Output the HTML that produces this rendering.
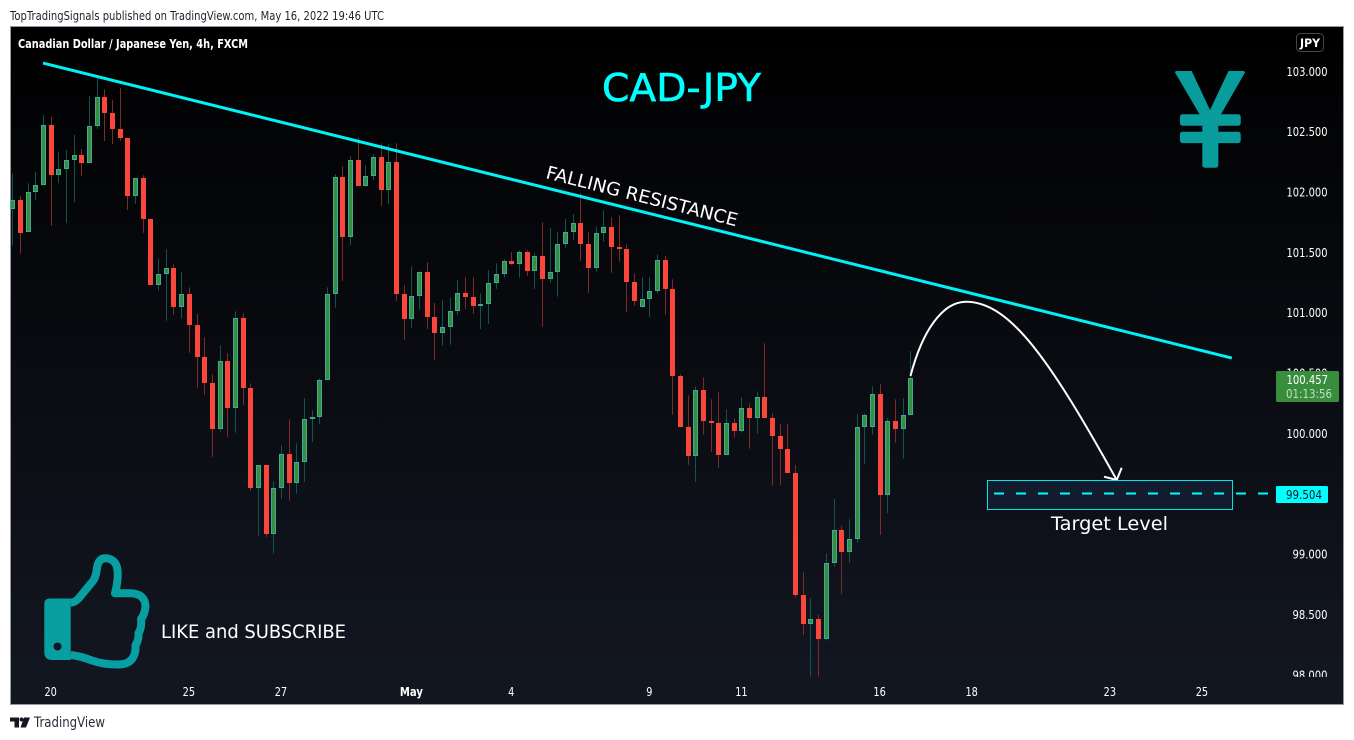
<!DOCTYPE html>
<html lang="en">
<head>
<meta charset="utf-8">
<title>CAD-JPY chart</title>
<style>
html,body{margin:0;padding:0;background:#fff;width:1354px;height:740px;overflow:hidden}
svg{display:block;font-family:"DejaVu Sans","Liberation Sans",sans-serif}
</style>
</head>
<body>
<svg id="chart" xmlns="http://www.w3.org/2000/svg" width="1354" height="740" viewBox="0 0 1354 740">
  <defs>
    <linearGradient id="panelBg" x1="0" y1="0" x2="0" y2="1">
      <stop offset="0" stop-color="#000000"/>
      <stop offset="1" stop-color="#131722"/>
    </linearGradient>
    <clipPath id="axisClip"><rect x="1270" y="27" width="73" height="650"/></clipPath>
  </defs>
  <text x="10" y="20" font-size="12" fill="#1e222d" textLength="374" lengthAdjust="spacingAndGlyphs">TopTradingSignals published on TradingView.com, May 16, 2022 19:46 UTC</text>
  <rect x="10.5" y="26.5" width="1333" height="678" fill="url(#panelBg)" stroke="#9598a1" stroke-width="1"/>
  <g id="candles"></g>
  <g id="xaxis"></g>
  <g id="yaxis" clip-path="url(#axisClip)"></g>
  <text x="18" y="48" font-size="12" font-weight="bold" fill="#ffffff" textLength="230" lengthAdjust="spacingAndGlyphs">Canadian Dollar / Japanese Yen, 4h, FXCM</text>
  <text x="602" y="101" font-size="38" fill="#00ffff" stroke="#00ffff" stroke-width="0.6" textLength="159" lengthAdjust="spacingAndGlyphs">CAD-JPY</text>
  <g fill="#089c9c">
    <path d="M1175,72.5 Q1175,71 1177,71 H1191.7 L1210,110 L1228.5,71 H1243 Q1245,71 1245,72.5 L1218.3,119 V165 Q1218.3,167.7 1215.5,167.7 H1205 Q1202.3,167.7 1202.3,165 V119 Z"/>
    <rect x="1180" y="114.3" width="60.7" height="11.4" rx="2.5"/>
    <rect x="1180" y="131.7" width="60.7" height="11.4" rx="2.5"/>
  </g>
  <rect x="1296.5" y="33.5" width="27" height="18" rx="4" fill="none" stroke="#434651"/>
  <text x="1300" y="47" font-size="11.5" font-weight="bold" fill="#ffffff" textLength="20" lengthAdjust="spacingAndGlyphs">JPY</text>
  <line id="trend" stroke="#00f2f7" stroke-width="3"/>
  <text transform="translate(545,178) rotate(14.2)" font-size="18" fill="#ffffff" textLength="197" lengthAdjust="spacingAndGlyphs">FALLING RESISTANCE</text>
  <path d="M910.5,376 C922,332 942,301.7 966,301.7 C1010,301.7 1050,360 1116.7,480" fill="none" stroke="#ffffff" stroke-width="2"/>
  <path d="M1104,476.7 L1116.7,480 L1121.7,467.7" fill="none" stroke="#ffffff" stroke-width="2"/>
  <rect id="targetBox" x="987.5" y="480.5" width="245" height="29" fill="#131c2e" stroke="#00e5e8" stroke-width="1"/>
  <line id="targetLine" stroke="#00ffff" stroke-width="2" stroke-dasharray="10 12"/>
  <text x="1051" y="530" font-size="19" fill="#ffffff" textLength="117" lengthAdjust="spacingAndGlyphs">Target Level</text>
  <g>
    <path d="M44.3,604 Q44.3,598.5 50,598.5 H70.7 V660 H52 Q44.3,660 44.3,652 Z" fill="#089fa3"/>
    <circle cx="57.5" cy="646.5" r="4" fill="#131722"/>
    <path d="M70.7,602.7 Q75,602.5 79,598 L93,581 Q96,577 97,568 Q98.5,558.5 105,558.3 Q116,558.5 117.5,570 Q118.5,580 115,593.3 H131 Q145,594 145.5,606 Q145,614 141,619 Q142,628 138.5,633 Q139,640 135.5,645 Q136,654 132,659 Q128,664.5 118,664.5 Q103,664.5 92,660.5 Q80,656 70.7,655" fill="none" stroke="#089fa3" stroke-width="8" stroke-linejoin="round"/>
  </g>
  <text x="161" y="638" font-size="19" fill="#ffffff" textLength="185" lengthAdjust="spacingAndGlyphs">LIKE and SUBSCRIBE</text>
  <rect x="1276" y="371" width="63" height="31" rx="1.5" fill="#388e3c"/>
  <text id="lastPriceText" x="1286.5" y="384" font-size="12" fill="#ffffff" textLength="41.5" lengthAdjust="spacingAndGlyphs"></text>
  <text x="1286" y="398" font-size="12" fill="#c5dcc6" textLength="46" lengthAdjust="spacingAndGlyphs">01:13:56</text>
  <rect x="1276" y="486" width="52" height="17" rx="1.5" fill="#00ffff"/>
  <text id="targetPriceText" x="1286" y="499" font-size="12" fill="#131722" textLength="36" lengthAdjust="spacingAndGlyphs"></text>
  <g>
    <path d="M10,717.5 H19 V727.5 H14.5 V721.5 H10 Z M24,717.5 H30 L26,727.5 H20.5 Z" fill="#131722"/>
    <circle cx="21.5" cy="719.5" r="2" fill="#131722"/>
    <text x="34" y="727" font-size="14" fill="#2a2e39" textLength="71" lengthAdjust="spacingAndGlyphs">TradingView</text>
  </g>
</svg>
<script>
const opens=[101.858,101.932,101.667,101.999,102.057,102.554,102.145,102.189,102.264,102.305,102.244,102.546,102.786,102.658,102.526,102.451,101.971,102.115,101.780,101.233,101.319,101.369,101.051,101.154,100.902,100.637,100.421,100.040,100.599,100.214,100.955,100.380,99.551,99.737,99.170,99.551,99.828,99.593,99.762,100.118,100.135,100.441,101.154,102.123,101.631,102.264,102.053,102.131,102.289,102.020,102.247,101.159,100.952,101.137,101.336,100.968,100.836,100.880,101.013,101.162,101.134,101.059,101.071,101.245,101.319,101.427,101.407,101.502,101.349,101.469,101.283,101.336,101.568,101.667,101.742,101.573,101.374,101.659,101.709,101.548,101.532,101.258,101.046,101.112,101.179,101.435,101.195,100.479,100.057,99.817,100.358,100.107,100.090,99.825,100.085,100.024,100.209,100.131,100.300,100.131,99.982,99.875,99.676,98.665,98.425,98.461,98.300,98.925,99.198,99.021,99.124,100.052,100.057,100.325,99.493,100.102,100.038,100.151];
const highs=[102.156,101.968,102.073,102.167,102.639,102.623,102.338,102.349,102.474,102.358,102.797,102.943,102.852,102.764,102.863,102.451,102.115,102.140,101.780,101.452,101.527,101.402,101.336,101.212,100.991,100.797,100.491,100.731,100.665,101.013,100.996,100.416,99.737,99.737,99.604,99.905,100.118,99.919,100.292,100.193,100.458,101.212,102.148,102.214,102.297,102.454,102.222,102.316,102.405,102.396,102.405,101.228,101.388,101.344,101.419,101.082,101.104,101.129,101.272,101.295,101.295,101.162,101.353,101.411,101.444,101.504,101.518,101.518,101.493,101.750,101.703,101.667,101.778,101.819,101.991,101.667,101.717,101.852,101.792,101.808,101.568,101.328,101.295,101.295,101.485,101.469,101.278,100.491,100.317,100.392,100.466,100.284,100.342,100.201,100.126,100.300,100.251,100.350,100.748,100.168,100.079,100.079,99.739,98.850,98.635,98.497,99.008,99.458,99.234,99.290,100.162,100.168,100.392,100.408,100.129,100.284,100.292,100.684];
const lows=[101.556,101.490,101.667,101.938,102.057,101.722,102.076,101.744,101.918,102.134,102.244,102.523,102.424,102.399,102.426,101.852,101.904,101.664,101.233,101.184,100.935,100.985,100.952,100.670,100.380,100.322,99.808,100.015,99.974,100.007,100.239,99.527,99.154,99.145,99.005,99.458,99.444,99.502,99.601,99.932,100.079,100.441,101.043,101.266,101.562,102.053,102.045,102.101,101.885,101.902,101.101,100.778,100.877,101.024,100.866,100.612,100.728,100.736,100.982,101.032,100.993,100.866,100.908,101.200,101.291,101.399,101.291,101.308,101.198,100.885,101.250,101.134,101.540,101.606,101.432,101.167,101.341,101.590,101.333,101.424,101.010,101.059,101.046,100.968,101.162,100.985,100.156,100.057,99.742,99.601,99.991,99.850,99.717,99.820,99.966,100.007,99.875,99.999,100.131,99.568,99.576,99.671,98.640,98.331,97.986,97.986,98.284,98.897,98.671,98.930,99.096,99.748,99.991,99.160,99.342,99.924,99.792,100.151];
const closes=[101.932,101.664,101.999,102.057,102.554,102.145,102.189,102.264,102.305,102.244,102.546,102.786,102.658,102.526,102.451,101.971,102.115,101.780,101.233,101.319,101.369,101.051,101.154,100.902,100.637,100.421,100.040,100.599,100.214,100.955,100.380,99.551,99.737,99.170,99.551,99.828,99.593,99.762,100.118,100.135,100.441,101.154,102.123,101.631,102.264,102.053,102.131,102.289,102.020,102.247,101.159,100.952,101.137,101.336,100.968,100.836,100.880,101.013,101.162,101.134,101.059,101.071,101.245,101.319,101.427,101.407,101.502,101.349,101.469,101.283,101.336,101.568,101.667,101.742,101.573,101.374,101.659,101.709,101.548,101.532,101.258,101.101,101.112,101.179,101.435,101.195,100.479,100.057,99.817,100.358,100.107,100.090,99.825,100.085,100.024,100.209,100.131,100.300,100.131,99.982,99.875,99.676,98.665,98.425,98.461,98.300,98.925,99.198,99.021,99.124,100.052,100.151,100.325,99.493,100.102,100.038,100.151,100.457];
const priceTicks=[103,102.5,102,101.5,101,100.5,100,99.5,99,98.5,98];
const timeTickLabels=["20","25","27","May","4","9","11","16","18","23","25"];
const timeTickBars=[5,23,35,52,65,83,95,113,125,143,155];
const trendBars=[4,158.9];
const trendPrices=[103.07,100.626];
const targetPrice=99.504;
const lastPrice=100.457;

const SVGNS="http://www.w3.org/2000/svg";
function xScale(bar){return 12.3+7.675*bar;}
function yScale(price){return 71.5+(103-price)*120.7;}
function make(tag,attrs){
  const el=document.createElementNS(SVGNS,tag);
  for(const k in attrs){el.setAttribute(k,attrs[k]);}
  return el;
}
const candleGroup=document.getElementById('candles');
closes.forEach(function(close,i){
  const open=opens[i],up=close>=open;
  const cx=Math.round(xScale(i));
  const top=Math.round(yScale(Math.max(open,close)));
  const bot=Math.round(yScale(Math.min(open,close)));
  const g=make('g',{});
  
  
  const wick=make('rect',{x:cx,y:yScale(highs[i]),width:1,height:Math.max(0,yScale(lows[i])-yScale(highs[i])),fill:up?'#0f544f':'#7c2b2b'});
  
  
  g.appendChild(wick);
  const h=Math.max(2,bot-top);
  const body=up
    ? make('rect',{x:cx-2+0.5,y:top+0.5,width:4,height:h-1,fill:'#388e3c',stroke:'#3fa99c','stroke-width':1})
    : make('rect',{x:cx-2,y:top,width:5,height:h,fill:'#fb473b'});
  
  
  g.appendChild(body);
  candleGroup.appendChild(g);
});
const yGroup=document.getElementById('yaxis');
priceTicks.forEach(function(p){
  const t=make('text',{x:1286.5,y:yScale(p)+4.3,'font-size':12,fill:'#ffffff',textLength:41,lengthAdjust:'spacingAndGlyphs'});
  
  
  t.textContent=p.toFixed(3);
  if(p<100){t.setAttribute('x',1292.5);t.setAttribute('textLength',35);}
  yGroup.appendChild(t);
});
const xGroup=document.getElementById('xaxis');
timeTickLabels.forEach(function(label,i){
  const isMonth=label==='May';
  const len=isMonth?23:label.length*6.2;
  const t=make('text',{x:xScale(timeTickBars[i])-len/2,y:696,'font-size':12,fill:'#ffffff','font-weight':isMonth?'bold':'normal',textLength:len,lengthAdjust:'spacingAndGlyphs'});
  
  
  t.textContent=label;
  xGroup.appendChild(t);
});
const trend=document.getElementById('trend');
trend.setAttribute('x1',xScale(trendBars[0]));
trend.setAttribute('y1',yScale(trendPrices[0]));
trend.setAttribute('x2',xScale(trendBars[1]));
trend.setAttribute('y2',yScale(trendPrices[1]));
const tl=document.getElementById('targetLine');
tl.setAttribute('x1',994);
tl.setAttribute('x2',1272);
tl.setAttribute('y1',yScale(targetPrice));
tl.setAttribute('y2',yScale(targetPrice));
document.getElementById('targetPriceText').textContent=targetPrice.toFixed(3);
document.getElementById('lastPriceText').textContent=lastPrice.toFixed(3);
</script>
</body>
</html>
